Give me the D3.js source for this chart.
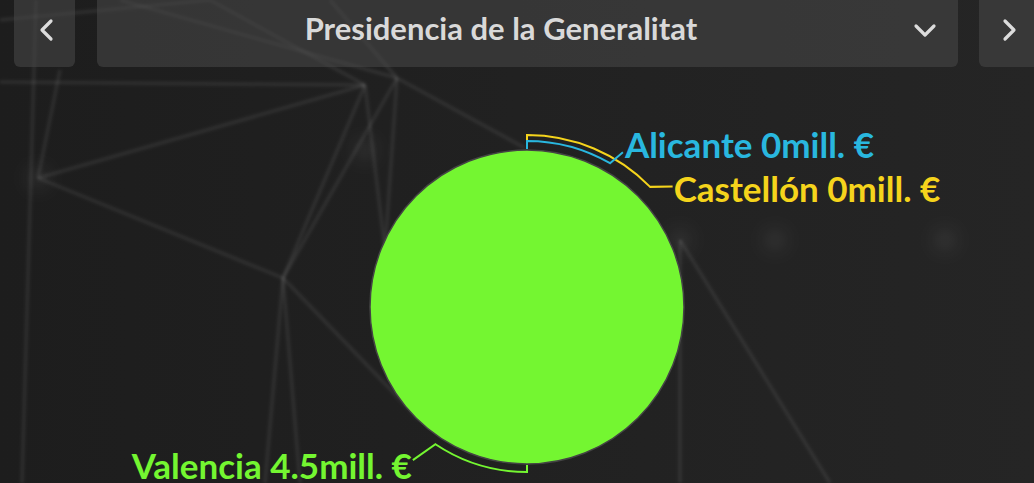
<!DOCTYPE html>
<html>
<head>
<meta charset="utf-8">
<script src="https://cdn.jsdelivr.net/npm/d3@7"></script>
<style>
  html, body { margin: 0; padding: 0; background: #1f1f1f; overflow: hidden; }
  svg { display: block; }
</style>
</head>
<body>
<svg id="chart"></svg>
<script>
const width = 1034
const height = 483

// data
const provinces = ["Valencia", "Alicante", "Castellón"]
const amounts = [4.5, 0, 0]
const colors = ["#74f631", "#29b7df", "#f5d41c"]
const title = "Presidencia de la Generalitat"

// label connectors: radius offset beyond pie, bend angle (deg), end point (radius, deg), text offset
const connOffset = [8, 9, 15]
const connBend = [213.7, 30, 45.7]
const connEnd = [[191, 216.7], [182, 31.8], [189, 50.4]]
const textAnchor = ["end", "start", "start"]
const textShift = [[-1, 19], [2, 6], [1, 15]]

// decorative background network
const bgNodes = [
  [38, 178], [283, 278], [397, 78], [365, 85], [680, 240], [830, 483],
  [680, 483], [36, 0], [22, 483], [60, 70], [0, 82], [210, 0], [330, 0],
  [300, 483], [265, 483], [420, 420], [525, 148], [385, 250], [120, 0], [0, 20]
]
const bgLinks = [
  [7, 8], [0, 9], [0, 3], [0, 1], [1, 3], [1, 2], [1, 13], [1, 14], [1, 15],
  [10, 3], [11, 3], [12, 2], [2, 16], [2, 17], [3, 17], [4, 5], [4, 6],
  [18, 2], [19, 11]
]
const bgGlows = [[38, 178], [680, 240], [775, 240], [945, 240], [365, 150]]

const svg = d3.select("#chart")
  .attr("width", width)
  .attr("height", height)

const defs = svg.append("defs")
const bgGrad = defs.append("linearGradient").attr("id", "bg")
  .attr("x1", 0).attr("x2", 1).attr("y1", 0).attr("y2", 0)
bgGrad.append("stop").attr("offset", 0).attr("stop-color", "#1d1d1d")
bgGrad.append("stop").attr("offset", 1).attr("stop-color", "#252525")

defs.append("filter").attr("id", "soft")
  .append("feGaussianBlur").attr("stdDeviation", 1.6)
defs.append("filter").attr("id", "glow")
  .append("feGaussianBlur").attr("stdDeviation", 8)

svg.append("rect")
  .attr("width", width)
  .attr("height", height)
  .attr("fill", "url(#bg)")

const net = svg.append("g").attr("filter", "url(#soft)")
net.selectAll("line")
  .data(bgLinks)
  .enter().append("line")
  .attr("x1", d => bgNodes[d[0]][0])
  .attr("y1", d => bgNodes[d[0]][1])
  .attr("x2", d => bgNodes[d[1]][0])
  .attr("y2", d => bgNodes[d[1]][1])
  .attr("stroke", "rgba(255,255,255,0.075)")
  .attr("stroke-width", 3.5)

svg.append("g").attr("filter", "url(#glow)")
  .selectAll("circle")
  .data(bgGlows)
  .enter().append("circle")
  .attr("cx", d => d[0])
  .attr("cy", d => d[1])
  .attr("r", 12)
  .attr("fill", "rgba(255,255,255,0.06)")

// header
const header = svg.append("g")
const barFill = "rgba(72,72,72,0.55)"
header.append("rect").attr("x", 14).attr("y", -10).attr("width", 61).attr("height", 77)
  .attr("rx", 6).attr("fill", barFill)
header.append("rect").attr("x", 97).attr("y", -10).attr("width", 861).attr("height", 77)
  .attr("rx", 6).attr("fill", barFill)
header.append("rect").attr("x", 979).attr("y", -10).attr("width", 70).attr("height", 77)
  .attr("rx", 6).attr("fill", barFill)

const chevron = d3.line()
header.selectAll("path.chev")
  .data([
    [[51, 21], [42, 30], [51, 39]],
    [[1005, 21], [1014, 30], [1005, 39]],
    [[916, 26], [925, 35], [934, 26]]
  ])
  .enter().append("path")
  .attr("class", "chev")
  .attr("d", chevron)
  .attr("fill", "none")
  .attr("stroke", "#dcdcdc")
  .attr("stroke-width", 3.2)
  .attr("stroke-linecap", "round")
  .attr("stroke-linejoin", "round")

header.append("text")
  .attr("x", 501)
  .attr("y", 40)
  .attr("text-anchor", "middle")
  .attr("fill", "#d9d9d9")
  .style("font-family", "Lato, sans-serif")
  .style("font-weight", 700)
  .style("font-size", "31px")
  .text(title)

// pie
const cx = 527, cy = 307, radius = 157
const data = provinces.map((p, i) => ({name: p, value: amounts[i], color: colors[i], i}))

const pie = d3.pie().sort(null).value(d => d.value)
const arc = d3.arc().innerRadius(0).outerRadius(radius)
const arcs = pie(data)

const g = svg.append("g").attr("transform", `translate(${cx},${cy})`)

g.selectAll("path.slice")
  .data(arcs.filter(d => d.value > 0))
  .enter().append("path")
  .attr("class", "slice")
  .attr("d", arc)
  .attr("fill", d => d.data.color)
  .attr("stroke", "#444")
  .attr("stroke-width", 1.5)

const polar = (a, r) => [r * Math.sin(a), -r * Math.cos(a)]
const rad = deg => deg * Math.PI / 180

function connector(d) {
  const i = d.data.i
  const mid = (d.startAngle + d.endAngle) / 2
  const R = radius + connOffset[i]
  let bend = rad(connBend[i])
  while (bend < mid) bend += 2 * Math.PI
  const p = d3.path()
  const s = polar(mid, radius + 1)
  const t = polar(mid, R)
  p.moveTo(s[0], s[1])
  p.lineTo(t[0], t[1])
  p.arc(0, 0, R, mid - Math.PI / 2, bend - Math.PI / 2, false)
  const e = polar(rad(connEnd[i][1]), connEnd[i][0])
  p.lineTo(e[0], e[1])
  return p.toString()
}

// draw larger offsets first so inner lines sit on top
const order = arcs.slice().sort((a, b) => connOffset[b.data.i] - connOffset[a.data.i])

g.selectAll("path.conn")
  .data(order)
  .enter().append("path")
  .attr("class", "conn")
  .attr("d", connector)
  .attr("fill", "none")
  .attr("stroke", d => d.data.color)
  .attr("stroke-width", 2)

g.selectAll("text.lbl")
  .data(arcs)
  .enter().append("text")
  .attr("class", "lbl")
  .attr("x", d => polar(rad(connEnd[d.data.i][1]), connEnd[d.data.i][0])[0] + textShift[d.data.i][0])
  .attr("y", d => polar(rad(connEnd[d.data.i][1]), connEnd[d.data.i][0])[1] + textShift[d.data.i][1])
  .attr("text-anchor", d => textAnchor[d.data.i])
  .attr("fill", d => d.data.color)
  .style("font-family", "Lato, sans-serif")
  .style("font-weight", 700)
  .style("font-size", "35px")
  .text(d => `${d.data.name} ${d.data.value}mill. €`)
</script>
</body>
</html>
